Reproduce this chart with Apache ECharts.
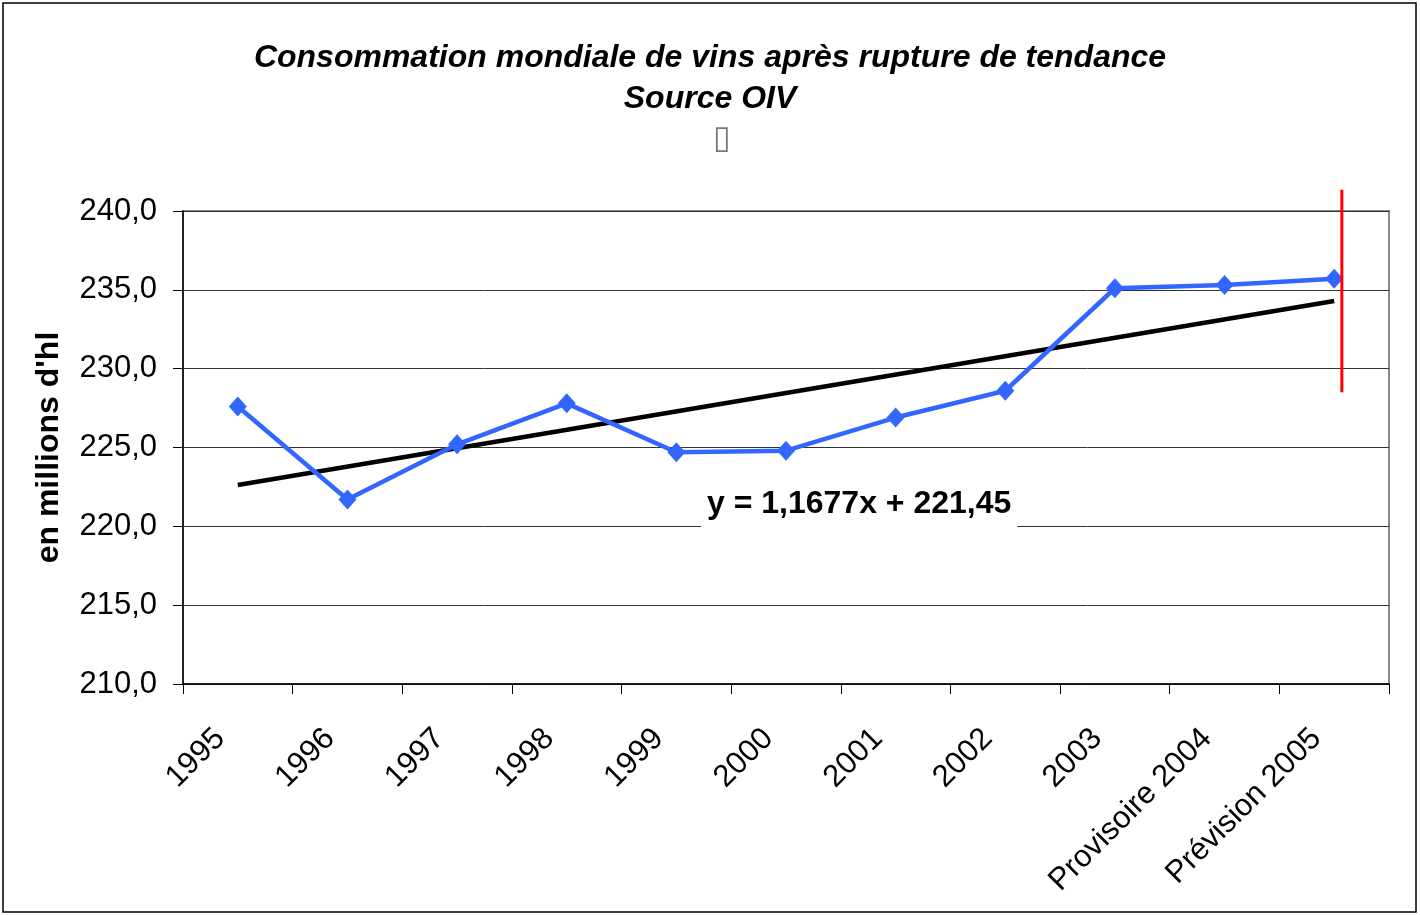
<!DOCTYPE html>
<html>
<head>
<meta charset="utf-8">
<script src="https://cdn.jsdelivr.net/npm/echarts@6/dist/echarts.min.js"></script>
<style>
html,body{margin:0;padding:0;background:#fff;}
#chart{width:1420px;height:915px;}
</style>
</head>
<body>
<div id="chart"></div>
<script>
const categories = ['1995','1996','1997','1998','1999','2000','2001','2002','2003','Provisoire 2004','Prévision 2005'];
const consumption = [227.6, 221.7, 225.2, 227.8, 224.7, 224.8, 226.9, 228.6, 235.1, 235.3, 235.7];
// trend line y = 1,1677x + 221,45 evaluated at first (x=1) and last (x=11) category
const trendEnds = [222.62, 234.29];
const trendLabel = 'y = 1,1677x + 221,45';
const yTicks = [210, 215, 220, 225, 230, 235, 240];
// red vertical marker (position on hidden 0..11 x scale, y extent in data units)
const redMarker = [[10.57, 241.35], [10.57, 228.5]];

const FONT = '"Liberation Sans", Arial, sans-serif';
const trendData = categories.map((c, i) => i === 0 ? trendEnds[0] : (i === categories.length - 1 ? trendEnds[1] : null));

const chart = echarts.init(document.getElementById('chart'), null, {renderer: 'canvas'});
chart.setOption({
  animation: false,
  backgroundColor: '#ffffff',
  textStyle: {fontFamily: FONT},
  title: [
    {
      text: 'Consommation mondiale de vins après rupture de tendance\nSource OIV',
      left: 'center', top: 33,
      textStyle: {fontFamily: FONT, fontSize: 32, fontWeight: 'bold', fontStyle: 'italic', color: '#000', lineHeight: 41}
    },
    {
      text: '\u25AF',
      left: 708, top: 119,
      textStyle: {fontFamily: '"DejaVu Sans"', fontSize: 32, fontWeight: 'normal', color: '#777'}
    },
    {
      text: trendLabel,
      left: 701, top: 478,
      backgroundColor: '#ffffff',
      padding: [8, 6, 10, 6],
      textStyle: {fontFamily: FONT, fontSize: 32, fontWeight: 'bold', color: '#000', lineHeight: 36}
    }
  ],
  graphic: [{
    type: 'rect', silent: true, z: 100,
    shape: {x: 3, y: 3, width: 1413, height: 909},
    style: {fill: 'none', stroke: '#000', lineWidth: 1.5}
  }],
  grid: {left: 183, right: 31, top: 211, bottom: 231, show: true, borderColor: '#888', borderWidth: 2, backgroundColor: '#fff'},
  xAxis: [
    {
      type: 'category', data: categories, boundaryGap: true,
      axisLine: {show: true, lineStyle: {color: '#000', width: 1.5}},
      axisTick: {show: true, length: 10, lineStyle: {color: '#000', width: 1}},
      axisLabel: {rotate: 45, margin: 32, padding: [0, 25, 0, 0], fontSize: 31, color: '#000', fontFamily: FONT, interval: 0},
      splitLine: {show: false}
    },
    {type: 'value', min: 0, max: 11, show: false}
  ],
  yAxis: {
    type: 'value', min: 210, max: 240, interval: 5,
    name: "en millions d'hl", nameLocation: 'middle', nameGap: 118,
    nameTextStyle: {fontFamily: FONT, fontSize: 32, fontWeight: 'bold', color: '#000'},
    axisLine: {show: true, lineStyle: {color: '#000', width: 1.5}},
    axisTick: {show: true, length: 10, lineStyle: {color: '#000', width: 1}},
    axisLabel: {margin: 26, fontSize: 31, color: '#000', fontFamily: FONT,
      formatter: v => v.toFixed(1).replace('.', ',')},
    splitLine: {show: true, lineStyle: {color: '#333', width: 1}}
  },
  series: [
    {
      type: 'line', name: 'trend', data: trendData, connectNulls: true,
      symbol: 'none', lineStyle: {color: '#000', width: 4.5}, z: 3
    },
    {
      type: 'line', name: 'consommation', data: consumption,
      symbol: 'diamond', symbolSize: [18, 20],
      itemStyle: {color: '#3366FF'},
      lineStyle: {color: '#3366FF', width: 4.5}, z: 4
    },
    {
      type: 'line', name: 'marker', xAxisIndex: 1, data: redMarker,
      symbol: 'none', clip: false, lineStyle: {color: '#FF0000', width: 3}, z: 5
    }
  ]
});
</script>
</body>
</html>
